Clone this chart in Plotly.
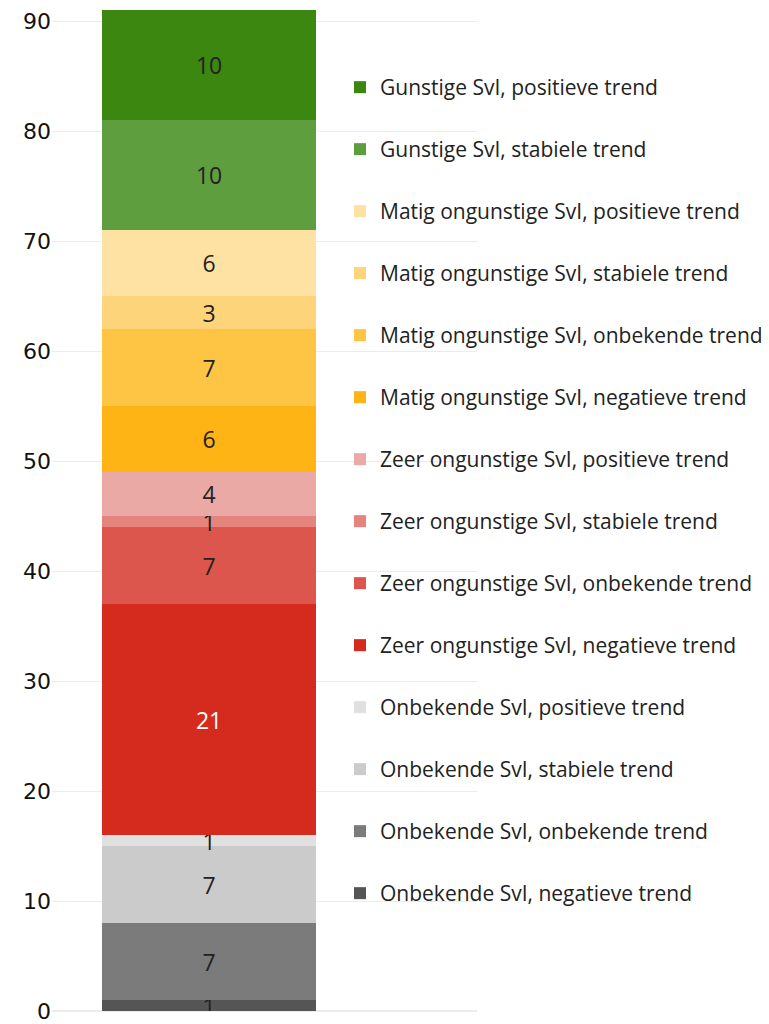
import plotly.graph_objects as go

categories = ["Soorten"]
series_names = [
    "Onbekende SvI, negatieve trend",
    "Onbekende SvI, onbekende trend",
    "Onbekende SvI, stabiele trend",
    "Onbekende SvI, positieve trend",
    "Zeer ongunstige SvI, negatieve trend",
    "Zeer ongunstige SvI, onbekende trend",
    "Zeer ongunstige SvI, stabiele trend",
    "Zeer ongunstige SvI, positieve trend",
    "Matig ongunstige SvI, negatieve trend",
    "Matig ongunstige SvI, onbekende trend",
    "Matig ongunstige SvI, stabiele trend",
    "Matig ongunstige SvI, positieve trend",
    "Gunstige SvI, stabiele trend",
    "Gunstige SvI, positieve trend",
]
series_values = [1, 7, 7, 1, 21, 7, 1, 4, 6, 7, 3, 6, 10, 10]
series_colors = [
    "#555555", "#7b7b7b", "#cbcbcb", "#e0e0e0",
    "#d42b1e", "#dc564d", "#e5837d", "#eaa9a5",
    "#feb414", "#fec444", "#fed47b", "#fee2a4",
    "#5f9e3f", "#3b870f",
]
label_colors = ["#222222"] * 14
label_colors[4] = "#ffffff"
y_ticks = [0, 10, 20, 30, 40, 50, 60, 70, 80, 90]

fig = go.Figure()
for i, (name, val, col) in enumerate(zip(series_names, series_values, series_colors)):
    fig.add_trace(go.Bar(
        x=[0], y=[val], name=name, width=1,
        marker=dict(color=col, line=dict(width=0)),
        text=[str(val)], textposition="inside", insidetextanchor="middle",
        textangle=0, constraintext="none",
        textfont=dict(color=label_colors[i], size=23, family="Open Sans"),
        legendgroup="g%d" % i, legendrank=1000 - i,
        hoverinfo="name+y",
    ))

fig.update_layout(
    barmode="stack",
    width=761, height=1016,
    paper_bgcolor="white", plot_bgcolor="white",
    margin=dict(l=44, r=292, t=2, b=13, autoexpand=False),
    uniformtext=dict(minsize=23, mode="show"),
    xaxis=dict(range=[-0.734, 1.252], showticklabels=False, showgrid=False,
               zeroline=False, showline=False, fixedrange=True),
    yaxis=dict(range=[0, 91], tickvals=y_ticks, ticktext=[str(t) for t in y_ticks],
               showgrid=True, gridcolor="#ececec", gridwidth=1,
               zeroline=True, zerolinecolor="#ececec", showline=False,
               tickfont=dict(size=22, color="#111111", family="DejaVu Sans"),
               ticklabeloverflow="allow", ticks=""),
    legend=dict(
        xref="paper", yref="paper",
        x=(332 - 44) / 425, y=(1003 - 59) / 1001, xanchor="left", yanchor="top",
        traceorder="grouped", tracegroupgap=31.7,
        font=dict(size=21, color="#222222", family="Open Sans"),
        itemwidth=30, bgcolor="rgba(0,0,0,0)",
    ),
    showlegend=True,
)

fig.write_html("out.html")
